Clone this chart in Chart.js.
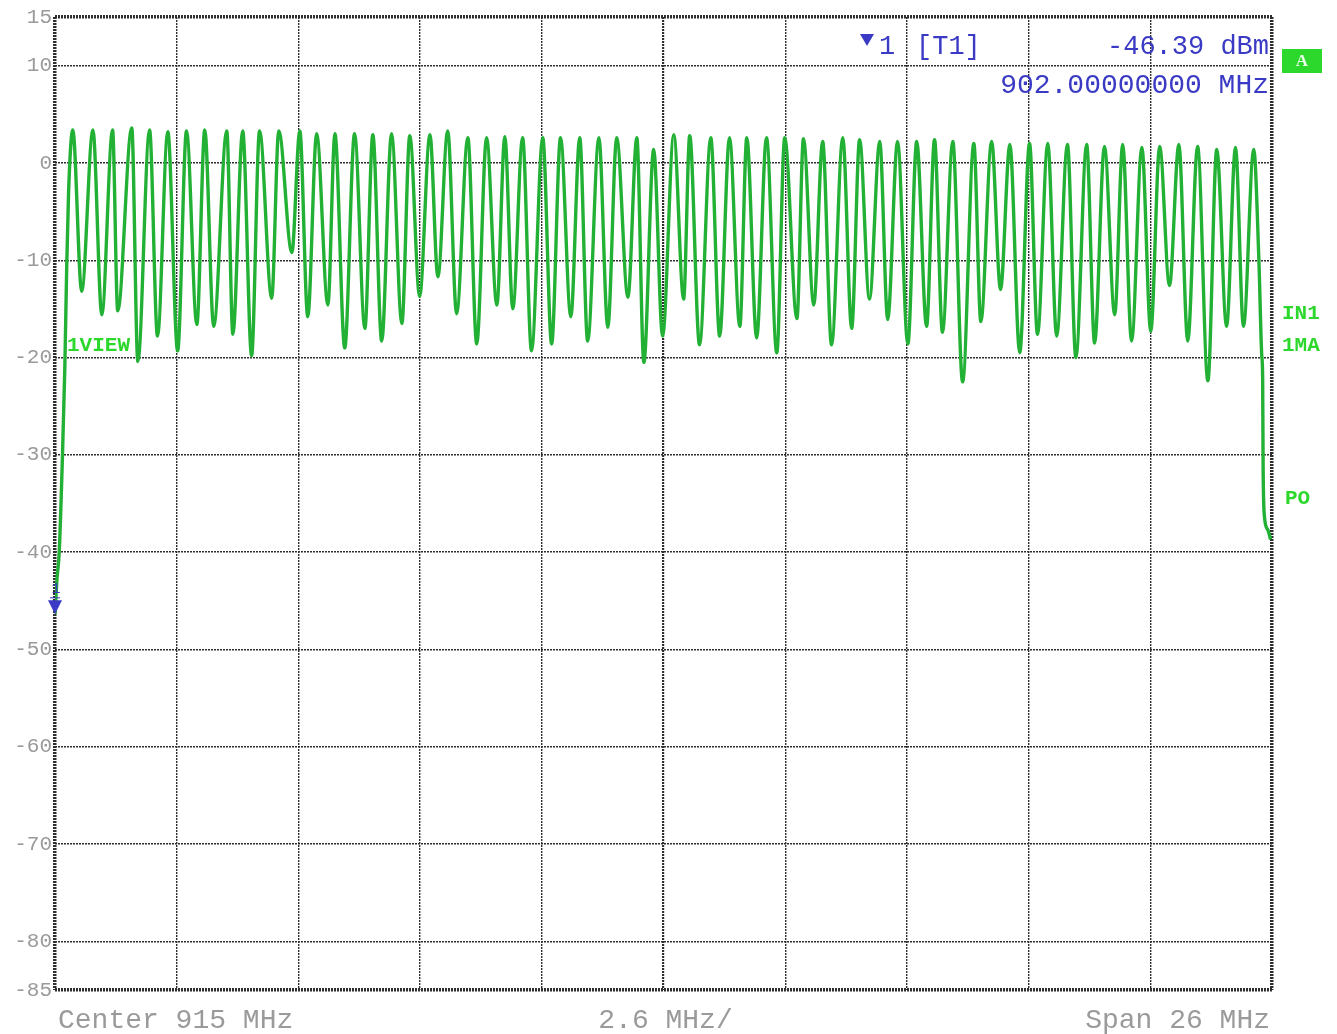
<!DOCTYPE html>
<html>
<head>
<meta charset="utf-8">
<script src="https://cdn.jsdelivr.net/npm/chart.js@4.4.1/dist/chart.umd.min.js"></script>
<style>
  html, body { margin: 0; padding: 0; background: #fff; }
  canvas { display: block; }
</style>
</head>
<body>
<canvas id="spectrum" width="1337" height="1034"></canvas>
<script>
// Trace 1 (max hold), 902..928 MHz, level in dBm
const freqMHz = [
  902.00, 902.04, 902.09, 902.16, 902.21, 902.25, 902.29,
  902.38, 902.57, 902.81, 903.00, 903.23, 903.34, 903.64, 903.77, 904.02, 904.19,
  904.41, 904.62, 904.81, 905.03, 905.20, 905.39, 905.67, 905.80, 906.01, 906.20,
  906.37, 906.63, 906.78, 907.06, 907.23, 907.40, 907.59, 907.83, 907.98, 908.19,
  908.40, 908.62, 908.79, 908.98, 909.19, 909.41, 909.58, 909.79, 910.01, 910.18,
  910.39, 910.58, 910.82, 911.01, 911.22, 911.44, 911.61, 911.78, 911.99, 912.18,
  912.42, 912.61, 912.80, 913.02, 913.21, 913.38, 913.62, 913.81, 914.00, 914.24,
  914.43, 914.58, 914.79, 914.98, 915.22, 915.43, 915.56, 915.77, 916.01, 916.20,
  916.41, 916.63, 916.78, 916.99, 917.20, 917.42, 917.59, 917.85, 917.99, 918.21,
  918.40, 918.59, 918.83, 919.02, 919.19, 919.40, 919.62, 919.79, 920.00, 920.22,
  920.41, 920.62, 920.79, 920.96, 921.18, 921.39, 921.63, 921.78, 922.01, 922.20,
  922.40, 922.61, 922.82, 922.99, 923.21, 923.40, 923.63, 923.81, 924.04, 924.21,
  924.42, 924.64, 924.81, 925.00, 925.22, 925.41, 925.60, 925.81, 926.01, 926.20,
  926.41, 926.63, 926.82, 927.03, 927.22, 927.39, 927.61,
  927.72, 927.78, 927.80, 927.81, 927.84, 927.91, 927.97
];
const levelDbm = [
  -46.39, -42.9, -40.0, -30.0, -21.0, -10.7, -3.0,
  3.4, -13.2, 3.4, -15.6, 3.4, -15.2, 3.6, -20.4, 3.4, -17.8,
  3.2, -19.3, 3.3, -16.6, 3.4, -16.8, 3.3, -17.6, 3.3, -19.8,
  3.3, -13.9, 3.3, -9.2, 3.3, -15.8, 3.0, -14.6, 3.0, -19.0,
  3.0, -17.0, 2.9, -18.3, 3.0, -16.5, 2.8, -13.7, 2.9, -11.7,
  3.3, -15.5, 2.6, -18.6, 2.6, -14.6, 2.7, -15.0, 2.6, -19.3,
  2.6, -18.6, 2.6, -15.8, 2.6, -18.3, 2.6, -16.9, 2.6, -13.8,
  2.6, -20.5, 1.4, -17.8, 2.9, -14.0, 2.8, -18.7, 2.6, -17.8,
  2.6, -16.8, 2.6, -18.0, 2.6, -19.5, 2.6, -16.0, 2.5, -14.6,
  2.2, -18.7, 2.6, -17.0, 2.4, -14.0, 2.2, -16.1, 2.2, -18.6,
  2.2, -16.8, 2.4, -17.4, 2.2, -22.5, 2.0, -16.3, 2.2, -13.0,
  1.9, -19.5, 2.0, -17.6, 2.0, -17.8, 1.9, -20.0, 1.9, -18.5,
  1.7, -15.6, 1.9, -18.3, 1.6, -17.3, 1.7, -12.6, 1.9, -18.3,
  1.7, -22.4, 1.4, -16.8, 1.6, -16.8, 1.4,
  -10.0, -19.7, -22.0, -31.0, -36.4, -37.7, -38.7
];

// axis grid: 10 divisions of 2.6 MHz, ref level 15 dBm, 10 dB/div
const freqGrid = [902.0, 904.6, 907.2, 909.8, 912.4, 915.0, 917.6, 920.2, 922.8, 925.4, 928.0];
const levelTicks = [15, 10, 0, -10, -20, -30, -40, -50, -60, -70, -80, -85];

// marker 1
const markerFreq = 902.0;
const markerLevel = -46.39;

const GRID_COLOR = '#2e2e2e';
const LABEL_GRAY = '#9a9a9a';
const TRACE_GREEN = '#22b035';
const MARKER_BLUE = '#3a3ac4';
const STATUS_GREEN = '#2cd82c';

function buildTrace() {
    return freqMHz.map((f, i) => ({ x: f, y: levelDbm[i] }));
}

function downTriangle(ctx, cx, tipY, halfW, h) {
    ctx.beginPath();
    ctx.moveTo(cx - halfW, tipY - h);
    ctx.lineTo(cx + halfW, tipY - h);
    ctx.lineTo(cx, tipY);
    ctx.closePath();
    ctx.fill();
}

const screenPlugin = {
    id: 'screenText',
    beforeDraw(chart) {
        const ctx = chart.ctx;
        ctx.save();
        ctx.fillStyle = '#ffffff';
        ctx.fillRect(0, 0, chart.width, chart.height);
        ctx.restore();
    },
    afterDraw(chart) {
        const ctx = chart.ctx;
        const area = chart.chartArea;
        const xs = chart.scales.x;
        const ys = chart.scales.y;
        ctx.save();
        ctx.textBaseline = 'middle';

        // marker readout
        ctx.fillStyle = MARKER_BLUE;
        downTriangle(ctx, 867, 46, 7, 12);
        ctx.font = '27px "Liberation Mono", monospace';
        ctx.textAlign = 'left';
        ctx.fillText('1', 879, 47);
        ctx.fillText('[T1]', 916, 47);
        ctx.textAlign = 'right';
        ctx.fillText(markerLevel.toFixed(2) + ' dBm', area.right - 3, 47);
        ctx.font = '28px "Liberation Mono", monospace';
        ctx.fillText(markerFreq.toFixed(8) + ' MHz', area.right - 3, 86);

        // marker on the trace
        const mx = xs.getPixelForValue(markerFreq);
        const my = ys.getPixelForValue(markerLevel);
        downTriangle(ctx, mx, my, 7, 14);
        ctx.font = '15px "Liberation Mono", monospace';
        ctx.textAlign = 'center';
        ctx.fillText('1', mx + 1, my - 25);
        ctx.fillRect(mx - 5, my - 17, 10, 1);

        // status labels
        ctx.fillStyle = STATUS_GREEN;
        ctx.fillRect(area.right + 10, 49, 40, 24);
        ctx.fillStyle = '#e8ffe8';
        ctx.font = 'bold 17px "Liberation Serif", serif';
        ctx.textAlign = 'center';
        ctx.fillText('A', area.right + 30, 62);

        ctx.fillStyle = STATUS_GREEN;
        ctx.font = 'bold 21px "Liberation Mono", monospace';
        ctx.textAlign = 'left';
        ctx.fillText('IN1', area.right + 10, 314);
        ctx.fillText('1MA', area.right + 10, 346);
        ctx.fillText('PO', area.right + 13, 499);
        ctx.fillText('1VIEW', area.left + 12, 346);

        // bottom annotation
        ctx.fillStyle = LABEL_GRAY;
        ctx.font = '28px "Liberation Mono", monospace';
        ctx.textAlign = 'left';
        ctx.fillText('Center 915 MHz', area.left + 3, 1021);
        ctx.textAlign = 'center';
        ctx.fillText('2.6 MHz/', xs.getPixelForValue(915) + 2, 1021);
        ctx.textAlign = 'right';
        ctx.fillText('Span 26 MHz', area.right - 2, 1021);
        ctx.restore();
    }
};

function gridWidth(value, edges, center) {
    if (edges.includes(value)) return 3.5;
    if (value === center) return 2.2;
    return 1.4;
}

function initChart() {
    const canvas = document.getElementById('spectrum');
    new Chart(canvas, {
        type: 'line',
        data: {
            datasets: [{
                label: 'Trace 1',
                data: buildTrace(),
                borderColor: TRACE_GREEN,
                borderWidth: 3.4,
                pointRadius: 0,
                fill: false,
                cubicInterpolationMode: 'monotone'
            }]
        },
        options: {
            responsive: false,
            animation: false,
            devicePixelRatio: 1,
            layout: { padding: { top: 17, right: 65, bottom: 0, left: 0 } },
            plugins: { legend: { display: false }, tooltip: { enabled: false } },
            scales: {
                x: {
                    type: 'linear',
                    min: 902,
                    max: 928,
                    afterBuildTicks: scale => { scale.ticks = freqGrid.map(v => ({ value: v })); },
                    afterFit: scale => { scale.height = 44; },
                    ticks: { display: false },
                    border: { display: false, dash: [2, 1] },
                    grid: {
                        color: GRID_COLOR,
                        drawTicks: false,
                        lineWidth: c => gridWidth(c.tick && c.tick.value, [902, 928], 915)
                    }
                },
                y: {
                    type: 'linear',
                    min: -85,
                    max: 15,
                    afterBuildTicks: scale => { scale.ticks = levelTicks.map(v => ({ value: v })); },
                    afterFit: scale => { scale.width = 55; },
                    border: { display: false, dash: [2, 1] },
                    grid: {
                        color: GRID_COLOR,
                        drawTicks: false,
                        lineWidth: c => gridWidth(c.tick && c.tick.value, [15, -85], null)
                    },
                    ticks: {
                        color: LABEL_GRAY,
                        padding: 3,
                        font: { family: '"Liberation Mono", monospace', size: 21 },
                        callback: v => String(v)
                    }
                }
            }
        },
        plugins: [screenPlugin]
    });
}

initChart();
</script>
</body>
</html>
